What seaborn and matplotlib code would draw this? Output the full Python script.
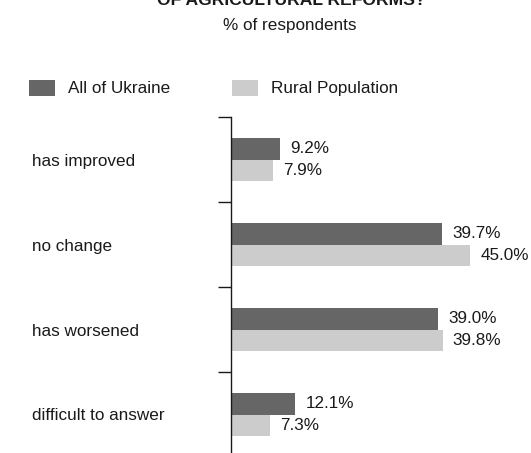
import matplotlib
matplotlib.use("Agg")
import matplotlib.pyplot as plt
import seaborn as sns
import pandas as pd
from matplotlib.ticker import FixedLocator

categories = ["has improved", "no change", "has worsened", "difficult to answer"]
groups = ["All of Ukraine", "Rural Population"]
all_ukraine = [9.2, 39.7, 39.0, 12.1]
rural = [7.9, 45.0, 39.8, 7.3]

title_text = "OF AGRICULTURAL REFORMS?"
subtitle_text = "% of respondents"

df = pd.DataFrame({
    "answer": categories * 2,
    "group": [groups[0]] * len(categories) + [groups[1]] * len(categories),
    "value": all_ukraine + rural,
})

sns.set_theme(style="white")
plt.rcParams["font.family"] = ["Liberation Sans", "DejaVu Sans"]
FS = 12.3
plt.rcParams["font.size"] = FS
text_color = "#1a1a1a"

W, H = 531, 453
fig = plt.figure(figsize=(W / 100, H / 100), dpi=100)

# axes: left at x=231 px, top at y=117 px, bottom runs just past the canvas
left_px, right_px, top_px, bottom_px = 231, 497, 117, 457
ax = fig.add_axes([left_px / W, 1 - bottom_px / H,
                   (right_px - left_px) / W, (bottom_px - top_px) / H])

sns.barplot(data=df, y="answer", x="value", hue="group", order=categories,
            hue_order=groups, palette=["#666666", "#cccccc"], orient="h",
            width=0.5, saturation=1, ax=ax, edgecolor="none", linewidth=0)

ax.set_xlim(0, 50)
ax.set_ylim(len(categories) - 0.5, -0.5)
ax.set_xlabel("")
ax.set_ylabel("")
ax.set_xticks([])

for side in ["top", "right", "bottom"]:
    ax.spines[side].set_visible(False)
ax.spines["left"].set_color(text_color)
ax.spines["left"].set_linewidth(1.0)

# category labels left-aligned far to the left; boundary ticks as minor ticks
ax.set_yticks(range(len(categories)))
ax.set_yticklabels(categories, ha="left", color=text_color, fontsize=FS)
ax.tick_params(axis="y", which="major", length=0, pad=199 * 0.72)
ax.yaxis.set_minor_locator(FixedLocator([i - 0.5 for i in range(len(categories))]))
ax.tick_params(axis="y", which="minor", length=13 * 0.72, width=1.0,
               color=text_color, left=True)

for container in ax.containers:
    ax.bar_label(container, fmt="%.1f%%", padding=10 * 0.72,
                 color=text_color, fontsize=FS)

em = FS * 100 / 72
handles, labels = ax.get_legend_handles_labels()
ax.legend(handles, labels, loc="center left",
          bbox_to_anchor=(29 / W, 1 - 88 / H), bbox_transform=fig.transFigure,
          ncol=2, frameon=False, handlelength=26 / em, handleheight=18 / em,
          handletextpad=13 / em, columnspacing=62 / em, borderpad=0,
          borderaxespad=0, fontsize=FS, labelcolor=text_color)

fig.text(291 / W, 1 - 5 / H, title_text, ha="center", va="baseline",
         fontsize=12.6, fontweight="bold", color=text_color)
fig.text(290 / W, 1 - 30 / H, subtitle_text, ha="center", va="baseline",
         fontsize=FS, color=text_color)

fig.savefig("out.png", dpi=100)
